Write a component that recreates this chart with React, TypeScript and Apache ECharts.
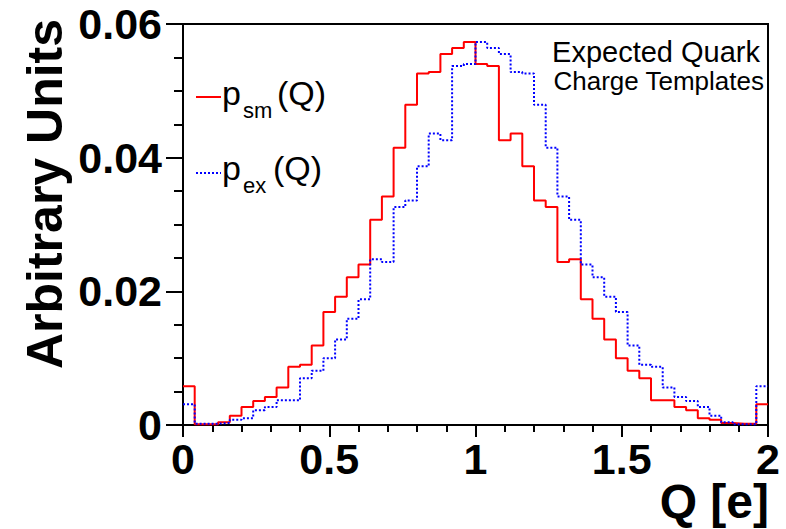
import React, { useEffect, useRef } from "react";
import * as echarts from "echarts";

// Histogram binning
const binWidth = 0.04;
const xMin = 0;

// p_sm(Q) bin contents (50 bins from 0 to 2)
const pSm = [
  0.0058, 0.0001, 0.0001, 0.0004, 0.0014, 0.0027, 0.0036, 0.0042, 0.0056, 0.0087,
  0.0090, 0.0119, 0.0169, 0.0192, 0.0221, 0.0240, 0.0307, 0.0342, 0.0415, 0.0479,
  0.0526, 0.0528, 0.0555, 0.0564, 0.0573, 0.0540, 0.0537, 0.0426, 0.0436, 0.0387,
  0.0336, 0.0326, 0.0244, 0.0248, 0.0188, 0.0159, 0.0128, 0.0100, 0.0081, 0.0070,
  0.0037, 0.0037, 0.0027, 0.0022, 0.0010, 0.0008, 0.0003, 0.0002, 0.0002, 0.0031,
];

// p_ex(Q) bin contents
const pEx = [
  0.0031, 0.0002, 0.0002, 0.0003, 0.0008, 0.0010, 0.0022, 0.0027, 0.0037, 0.0037,
  0.0070, 0.0081, 0.0100, 0.0128, 0.0159, 0.0188, 0.0248, 0.0244, 0.0326, 0.0336,
  0.0387, 0.0436, 0.0426, 0.0537, 0.0540, 0.0573, 0.0564, 0.0555, 0.0528, 0.0526,
  0.0479, 0.0415, 0.0342, 0.0307, 0.0240, 0.0221, 0.0192, 0.0169, 0.0119, 0.0090,
  0.0087, 0.0056, 0.0042, 0.0036, 0.0027, 0.0014, 0.0004, 0.0001, 0.0001, 0.0058,
];

const FONT = "'Liberation Sans', Arial, Helvetica, sans-serif";

function toSteps(vals: number[]): [number, number][] {
  const pts: [number, number][] = vals.map((v, i) => [
    +(xMin + i * binWidth).toFixed(4),
    v,
  ]);
  pts.push([+(xMin + vals.length * binWidth).toFixed(4), vals[vals.length - 1]]);
  return pts;
}

export default function App() {
  const ref = useRef<HTMLDivElement>(null);
  useEffect(() => {
    if (!ref.current) return;
    const chart = echarts.init(ref.current, undefined, { renderer: "svg" });
    const axisLine = { show: true, lineStyle: { color: "#000", width: 2 } };
    chart.setOption({
      animation: false,
      backgroundColor: "#fff",
      grid: {
        left: 183,
        right: 18,
        top: 24,
        bottom: 104,
        show: true,
        borderColor: "#000",
        borderWidth: 2,
        backgroundColor: "transparent",
      },
      xAxis: {
        type: "value",
        min: 0,
        max: 2,
        interval: 0.5,
        axisLine,
        axisTick: { show: true, length: 12, lineStyle: { color: "#000", width: 2 } },
        minorTick: { show: true, splitNumber: 5, length: 7, lineStyle: { color: "#000", width: 2 } },
        splitLine: { show: false },
        axisLabel: {
          margin: 12,
          color: "#000",
          fontFamily: FONT,
          fontWeight: "bold",
          fontSize: 43,
        },
      },
      yAxis: {
        type: "value",
        min: 0,
        max: 0.06,
        interval: 0.02,
        axisLine,
        axisTick: { show: true, length: 17, lineStyle: { color: "#000", width: 2 } },
        minorTick: { show: true, splitNumber: 4, length: 9, lineStyle: { color: "#000", width: 2 } },
        splitLine: { show: false },
        axisLabel: {
          margin: 21,
          color: "#000",
          fontFamily: FONT,
          fontWeight: "bold",
          fontSize: 43,
        },
      },
      series: [
        {
          name: "p_sm(Q)",
          type: "line",
          step: "end",
          symbol: "none",
          data: toSteps(pSm),
          lineStyle: { color: "#ff0000", width: 2 },
          z: 2,
        },
        {
          name: "p_ex(Q)",
          type: "line",
          step: "end",
          symbol: "none",
          data: toSteps(pEx),
          lineStyle: { color: "#0000ff", width: 2, type: [2, 2] },
          z: 3,
        },
      ],
      graphic: [
        {
          type: "text",
          x: 45,
          y: 194,
          rotation: Math.PI / 2,
          style: {
            text: "Arbitrary Units",
            font: `bold 50px ${FONT}`,
            fill: "#000",
            align: "center",
            verticalAlign: "middle",
          },
        },
        {
          type: "text",
          x: 769,
          y: 501,
          style: {
            text: "Q [e]",
            font: `bold 48px ${FONT}`,
            fill: "#000",
            align: "right",
            verticalAlign: "middle",
          },
        },
        {
          type: "text",
          x: 760,
          y: 52,
          style: {
            text: "Expected Quark",
            font: `29px ${FONT}`,
            fill: "#000",
            align: "right",
            verticalAlign: "middle",
          },
        },
        {
          type: "text",
          x: 764,
          y: 81,
          style: {
            text: "Charge Templates",
            font: `26px ${FONT}`,
            fill: "#000",
            align: "right",
            verticalAlign: "middle",
          },
        },
        // legend entry 1
        {
          type: "line",
          shape: { x1: 196, y1: 97, x2: 221, y2: 97 },
          style: { stroke: "#ff0000", lineWidth: 2 },
        },
        {
          type: "text",
          x: 222,
          y: 93,
          style: { text: "p", font: `34px ${FONT}`, fill: "#000", verticalAlign: "middle" },
        },
        {
          type: "text",
          x: 243,
          y: 110,
          style: { text: "sm", font: `22px ${FONT}`, fill: "#000", verticalAlign: "middle" },
        },
        {
          type: "text",
          x: 277,
          y: 93,
          style: { text: "(Q)", font: `34px ${FONT}`, fill: "#000", verticalAlign: "middle" },
        },
        // legend entry 2
        {
          type: "line",
          shape: { x1: 196, y1: 173, x2: 221, y2: 173 },
          style: { stroke: "#0000ff", lineWidth: 2, lineDash: [2, 2] },
        },
        {
          type: "text",
          x: 222,
          y: 168,
          style: { text: "p", font: `34px ${FONT}`, fill: "#000", verticalAlign: "middle" },
        },
        {
          type: "text",
          x: 243,
          y: 185,
          style: { text: "ex", font: `22px ${FONT}`, fill: "#000", verticalAlign: "middle" },
        },
        {
          type: "text",
          x: 273,
          y: 168,
          style: { text: "(Q)", font: `34px ${FONT}`, fill: "#000", verticalAlign: "middle" },
        },
      ],
    });
    return () => chart.dispose();
  }, []);
  return (
    <div
      ref={ref}
      style={{ position: "fixed", left: 0, top: 0, width: 786, height: 529 }}
    />
  );
}
